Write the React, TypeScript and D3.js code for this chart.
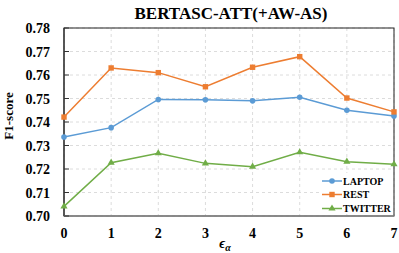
import React from "react";
import * as d3 from "d3";

const epsilons = [0, 1, 2, 3, 4, 5, 6, 7];
const laptop = [0.7336, 0.7376, 0.7496, 0.7495, 0.749, 0.7505, 0.745, 0.7426];
const rest = [0.7421, 0.763, 0.761, 0.755, 0.7633, 0.7678, 0.7502, 0.7443];
const twitter = [0.7041, 0.7227, 0.7267, 0.7224, 0.721, 0.7271, 0.7231, 0.722];
const yTicks = [0.7, 0.71, 0.72, 0.73, 0.74, 0.75, 0.76, 0.77, 0.78];

const W = 399;
const H = 253;
const left = 64;
const right = 394;
const top = 28;
const bottom = 216;
const font = "'Liberation Serif', 'Times New Roman', serif";

const series = [
  { name: "LAPTOP", values: laptop, color: "#5B9BD5", marker: "circle" },
  { name: "REST", values: rest, color: "#ED7D31", marker: "square" },
  { name: "TWITTER", values: twitter, color: "#70AD47", marker: "triangle" },
];

function Marker({ kind, x, y, color }: { kind: string; x: number; y: number; color: string }) {
  if (kind === "circle") return <circle cx={x} cy={y} r={2.8} fill={color} />;
  if (kind === "square") return <rect x={x - 2.7} y={y - 2.7} width={5.4} height={5.4} fill={color} />;
  const sym = d3.symbol().type(d3.symbolTriangle).size(22)();
  return <path d={sym || ""} transform={`translate(${x},${y})`} fill={color} />;
}

export default function App() {
  const x = d3.scaleLinear().domain([0, 7]).range([left, right]);
  const y = d3.scaleLinear().domain([0.7, 0.78]).range([bottom, top]);
  const line = d3
    .line<number>()
    .x((_, i) => x(epsilons[i]))
    .y((d) => y(d));

  const legendX = 322;
  const legendY = [181, 194.5, 208.5];

  return (
    <svg width={W} height={H} style={{ position: "absolute", left: 0, top: 0 }} fontFamily={font}>
      <rect width={W} height={H} fill="#fff" />
      <text x={231} y={19} textAnchor="middle" fontSize={17} fontWeight="bold">
        BERTASC-ATT(+AW-AS)
      </text>
      {/* grid */}
      {yTicks.map((t) => (
        <line key={"gy" + t} x1={left} x2={right} y1={y(t)} y2={y(t)} stroke="#dcdcdc" strokeDasharray="3,3" />
      ))}
      {epsilons.map((e) => (
        <line key={"gx" + e} x1={x(e)} x2={x(e)} y1={top} y2={bottom} stroke="#dcdcdc" strokeDasharray="3,3" />
      ))}
      {/* frame */}
      <rect x={left} y={top} width={right - left} height={bottom - top} fill="none" stroke="#222" strokeWidth={1} />
      <line x1={left} x2={left} y1={top} y2={bottom} stroke="#333" strokeWidth={1.2} />
      <line x1={left} x2={right} y1={bottom} y2={bottom} stroke="#888" strokeWidth={1.6} />
      {yTicks.map((t) => (
        <line key={"tk" + t} x1={left} x2={left + 5} y1={y(t)} y2={y(t)} stroke="#333" />
      ))}
      {yTicks.map((t) => (
        <text
          key={"ty" + t}
          x={50}
          y={y(t) + 5}
          textAnchor="end"
          fontSize={14}
          fontWeight="bold"
        >
          {t.toFixed(2)}
        </text>
      ))}
      {epsilons.map((e) => (
        <text key={"tx" + e} x={x(e)} y={238} textAnchor="middle" fontSize={14} fontWeight="bold">
          {e}
        </text>
      ))}
      <text
        transform={`translate(13,116) rotate(-90)`}
        textAnchor="middle"
        fontSize={13}
        fontWeight="bold"
      >
        F1-score
      </text>
      <text x={225} y={248} textAnchor="middle" fontSize={14} fontWeight="bold" fontStyle="italic">
        ϵ
        <tspan dy={3} fontSize={10}>
          α
        </tspan>
      </text>
      {series.map((s) => (
        <g key={s.name}>
          <path d={line(s.values) || ""} fill="none" stroke={s.color} strokeWidth={1.5} />
          {s.values.map((v, i) => (
            <Marker key={i} kind={s.marker} x={x(epsilons[i])} y={y(v)} color={s.color} />
          ))}
        </g>
      ))}
      {/* legend */}
      <rect x={319} y={173} width={73} height={41} fill="#fff" />
      {series.map((s, i) => (
        <g key={"lg" + s.name}>
          <line x1={legendX} x2={legendX + 20} y1={legendY[i]} y2={legendY[i]} stroke={s.color} strokeWidth={1.5} />
          <Marker kind={s.marker} x={legendX + 10} y={legendY[i]} color={s.color} />
          <text x={legendX + 21} y={legendY[i] + 3.5} fontSize={10} fontWeight="bold">
            {s.name}
          </text>
        </g>
      ))}
    </svg>
  );
}
